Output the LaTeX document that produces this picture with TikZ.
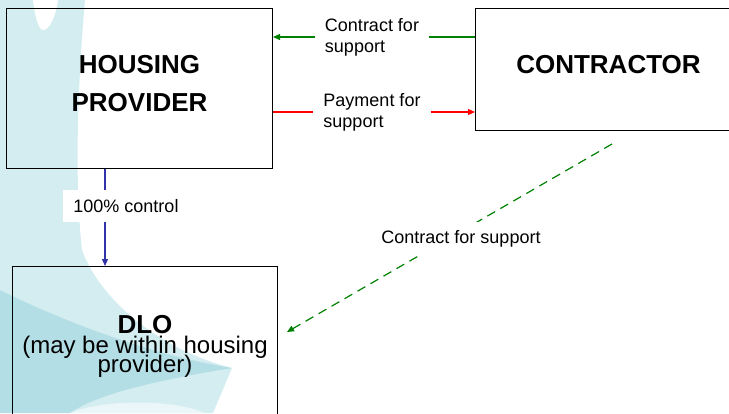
\documentclass[tikz,border=0pt]{standalone}
\usepackage{fontspec}
\setmainfont{Liberation Sans}
\usetikzlibrary{arrows.meta}

\definecolor{swoosh}{RGB}{212,237,240}
\definecolor{swooshdark}{RGB}{180,222,229}
\definecolor{swooshpale}{RGB}{234,246,248}
\definecolor{cgreen}{RGB}{0,128,0}
\definecolor{cred}{RGB}{255,0,0}
\definecolor{cblue}{RGB}{50,50,170}

\begin{document}
\begin{tikzpicture}[x=1pt, y=-1pt,
  box/.style={draw, line width=1pt, anchor=north west, inner sep=0pt,
    font=\bfseries\fontsize{26}{38}\selectfont},
  lbl/.style={fill=white, inner xsep=10pt, inner ysep=9pt, align=left,
    font=\fontsize{18}{21}\selectfont},
  tip/.style={-{Triangle[length=7pt,width=6pt]}},
  flow/.style={line width=1.2pt}]
\useasboundingbox (0,0) rectangle (729,413);
\clip (0,0) rectangle (729,413);

% watermark
\fill[swoosh] (0,0) -- (85,0) .. controls (78,80) and (74,180) .. (82,250)
  .. controls (100,300) and (160,350) .. (232,368) -- (213,413) -- (0,413) -- cycle;
\fill[white] (33,0) .. controls (35,18) and (39,30) .. (43,30)
  .. controls (50,30) and (56,15) .. (58,0) -- cycle;
\fill[swooshdark] (0,290) .. controls (60,320) and (150,355) .. (232,368)
  .. controls (170,378) and (100,392) .. (70,413) -- (0,413) -- cycle;
\fill[swooshpale] (70,413) .. controls (100,400) and (170,398) .. (205,413) -- cycle;

% boxes
\node[box, minimum width=266pt, minimum height=160pt, align=center, text depth=11pt]
  (hp) at (6,8) {HOUSING\\PROVIDER};
\node[box, minimum width=266pt, minimum height=122pt, text depth=10pt]
  (con) at (475,8) {CONTRACTOR};
\node[box, minimum width=265pt, minimum height=160pt, align=center,
  font={\fontsize{24}{19.5}\selectfont\lineskiplimit=-50pt}]
  (dlo) at (12,266) {{\bfseries\fontsize{26}{20}\selectfont DLO}\\(may be within housing\\provider)};

% control line
\coordinate (ctlx) at (105,0);
\draw[flow, cblue, tip] (hp.south -| ctlx) -- (dlo.north -| ctlx);

% direct contract
\coordinate (dfrom) at (612,144);
\coordinate (dto) at (287,332);
\draw[flow, cgreen, dash pattern=on 9pt off 6pt, tip] (dfrom) -- (dto);

% labels
\node[lbl] (sup) at (372,37) {Contract for\\support};
\node[lbl] (pay) at (372,112) {Payment for\\support};
\node[lbl] (ctl) at (126,206) {100\% control};
\node[lbl] (sub) at (461,239) {Contract for support};

\draw[flow, cgreen] (con.west |- sup) -- (sup.east);
\draw[flow, cgreen, tip] (sup.west) -- (hp.east |- sup);
\draw[flow, cred] (hp.east |- pay) -- (pay.west);
\draw[flow, cred, tip] (pay.east) -- (con.west |- pay);
\end{tikzpicture}
\end{document}
